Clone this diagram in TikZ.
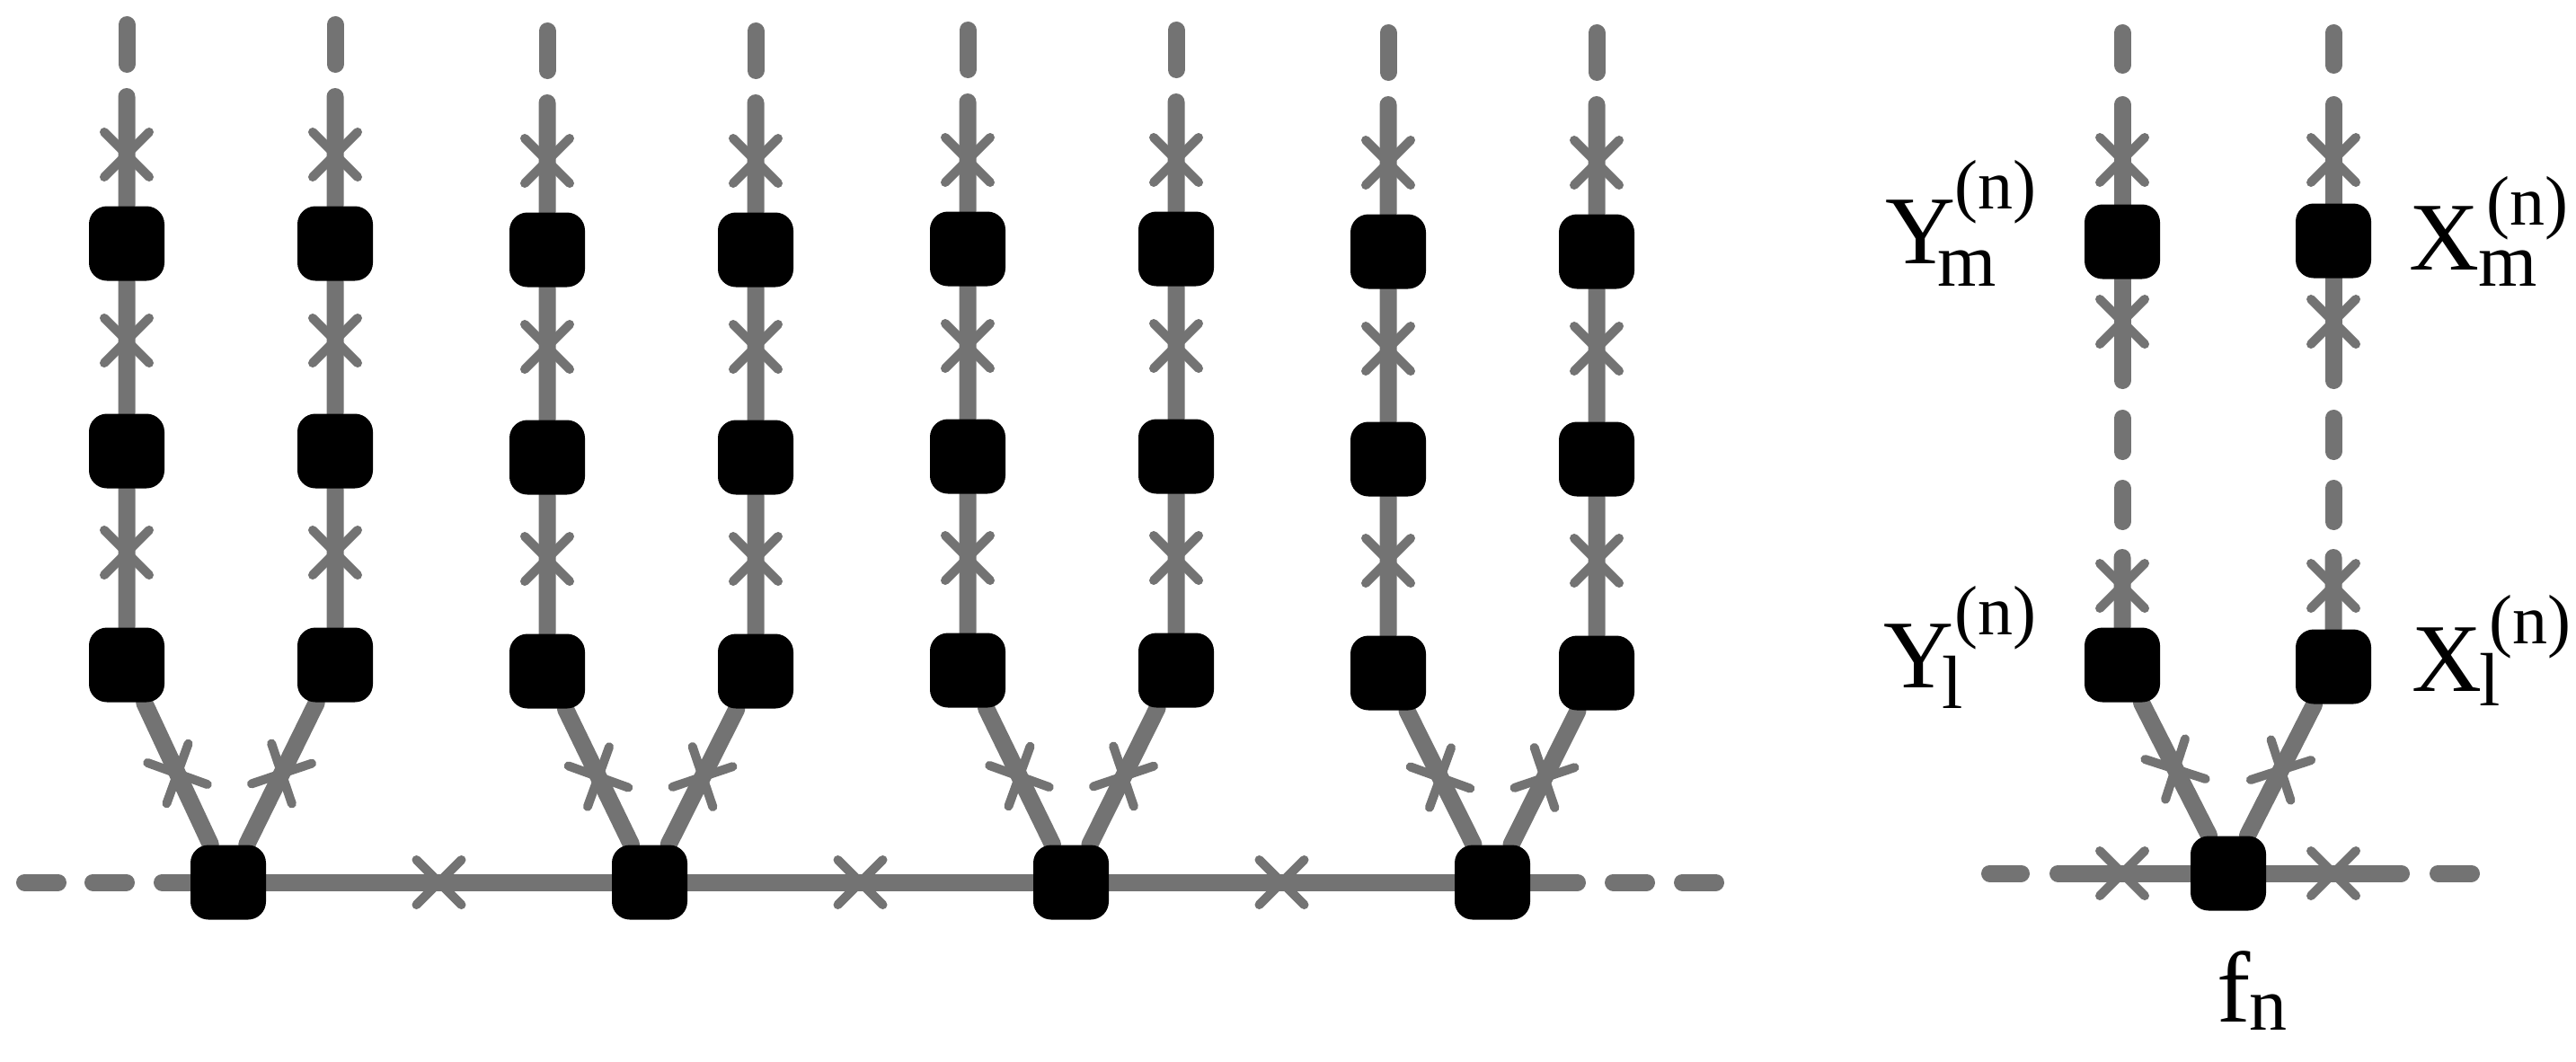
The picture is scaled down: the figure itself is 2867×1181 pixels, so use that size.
\documentclass[tikz,border=0pt]{standalone}
\usepackage{fontspec}
\setmainfont{Liberation Serif}
\usetikzlibrary{calc,backgrounds}
\definecolor{lg}{RGB}{115,115,115}
\newcommand{\tnsub}{\fontsize{21}{21}\selectfont}
\newcommand{\tnsup}{\fontsize{19.5}{19.5}\selectfont}
\tikzset{
  ln/.style={draw=lg, line width=4.75pt, line cap=round},
  xl/.style={draw=lg, line width=2.5pt, line cap=round},
  sq/.style={fill=black, draw=none, rounded corners=5pt, minimum width=21pt, minimum height=20.75pt, inner sep=0pt},
  xm/.pic={\draw[xl] (-6.25pt,-6.25pt) -- (6.25pt,6.25pt) (-6.25pt,6.25pt) -- (6.25pt,-6.25pt);},
  lab/.style={anchor=base west, inner sep=0pt, font=\fontsize{27}{27}\selectfont},
}
\begin{document}
\begin{tikzpicture}[x=0.25pt,y=-0.25pt]
\useasboundingbox (0,0) rectangle (2867,1181);
% ---------- left network: nodes ----------
\foreach \k/\dy in {0/0,1/7,2/6,3/9}{
  \pgfmathsetmacro{\cxl}{141+468*\k}
  \pgfmathsetmacro{\cxr}{373+468*\k}
  \pgfmathsetmacro{\cxb}{254+469*\k}
  \node[sq] (L\k-a) at (\cxl,271+\dy) {};
  \node[sq] (L\k-b) at (\cxl,502+\dy) {};
  \node[sq] (L\k-c) at (\cxl,740+\dy) {};
  \node[sq] (R\k-a) at (\cxr,271+\dy) {};
  \node[sq] (R\k-b) at (\cxr,502+\dy) {};
  \node[sq] (R\k-c) at (\cxr,740+\dy) {};
  \node[sq] (B\k) at (\cxb,982) {};
}
% ---------- right network: nodes ----------
\node[sq] (Ya) at (2362,269) {};
\node[sq] (Xa) at (2597,268) {};
\node[sq] (Yb) at (2362,740) {};
\node[sq] (Xb) at (2597,742) {};
\node[sq] (F) at (2480,972) {};
% ---------- lines ----------
\begin{pgfonlayer}{background}
\foreach \k/\dy in {0/0,1/7,2/6,3/9}{
  \pgfmathsetmacro{\cxl}{141+468*\k}
  \pgfmathsetmacro{\cxr}{373+468*\k}
  \coordinate (LT\k) at (\cxl,107.5+\dy);
  \coordinate (RT\k) at (\cxr,107.5+\dy);
  \draw[ln] (\cxl,27.5+\dy) -- (\cxl,71.5+\dy);
  \draw[ln] (\cxr,27.5+\dy) -- (\cxr,71.5+\dy);
  \draw[ln] (LT\k) -- (L\k-a) -- (L\k-b) -- (L\k-c) -- (B\k);
  \draw[ln] (RT\k) -- (R\k-a) -- (R\k-b) -- (R\k-c) -- (B\k);
}
\coordinate (HL) at (180.5,982);
\coordinate (HR) at (1755.5,982);
\draw[ln] (27.5,982) -- (64.5,982);
\draw[ln] (103.5,982) -- (140.5,982);
\draw[ln] (HL) -- (B0) -- (B1) -- (B2) -- (B3) -- (HR);
\draw[ln] (1795.5,982) -- (1832.5,982);
\draw[ln] (1872.5,982) -- (1909.5,982);
% right network
\foreach \cx/\top/\bot in {2362/Ya/Yb, 2597/Xa/Xb}{
  \draw[ln] (\cx,36.5) -- (\cx,72.5);
  \coordinate (T\top) at (\cx,116.5);
  \coordinate (E\top) at (\cx,423.5);
  \coordinate (S\bot) at (\cx,620.5);
  \draw[ln] (T\top) -- (\top) -- (E\top);
  \draw[ln] (\cx,465.5) -- (\cx,502.5);
  \draw[ln] (\cx,543.5) -- (\cx,580.5);
  \draw[ln] (S\bot) -- (\bot) -- (F);
}
\coordinate (FL) at (2290.5,972);
\coordinate (FR) at (2672.5,972);
\draw[ln] (2214.5,972) -- (2249.5,972);
\draw[ln] (FL) -- (F) -- (FR);
\draw[ln] (2713.5,972) -- (2750.5,972);
\end{pgfonlayer}
% ---------- crosses ----------
\foreach \k/\dy in {0/0,1/7,2/6,3/9}{
  \pgfmathsetmacro{\cxl}{141+468*\k}
  \pgfmathsetmacro{\cxr}{373+468*\k}
  \foreach \yy in {172,379,615}{
    \pic at (\cxl,\yy+\dy) {xm};
    \pic at (\cxr,\yy+\dy) {xm};
  }
  \pic[rotate=-64.9] at ($(L\k-c)!0.5!(B\k)$) {xm};
  \pic[rotate=-116.3] at ($(R\k-c)!0.5!(B\k)$) {xm};
}
\foreach \i/\j in {0/1,1/2,2/3}{
  \pic at ($(B\i)!0.5!(B\j)$) {xm};
}
\foreach \cx in {2362,2597}{
  \foreach \yy in {178,358,652}{
    \pic at (\cx,\yy) {xm};
  }
  \pic at (\cx,972) {xm};
}
\pic[rotate=-63.0] at ($(Yb)!0.5!(F)$) {xm};
\pic[rotate=-117.0] at ($(Xb)!0.5!(F)$) {xm};
% ---------- labels ----------
\node[lab] (labYm) at (2098,293) {Y\kern-5pt\rlap{\raisebox{-6.25pt}{\tnsub m}}\kern4.6pt\raisebox{15.25pt}{\tnsup (n)}};
\node[lab] (labXm) at (2680.4,300) {X\kern-0.3pt\rlap{\raisebox{-4.5pt}{\tnsub m}}\kern2.4pt\raisebox{12.5pt}{\tnsup (n)}};
\node[lab] (labYl) at (2096,765) {Y\kern-3.4pt\rlap{\raisebox{-5.75pt}{\tnsub l}}\kern3.5pt\raisebox{14.75pt}{\tnsup (n)}};
\node[lab] (labXl) at (2683.4,769) {X\kern-0.6pt\rlap{\raisebox{-4pt}{\tnsub l}}\kern2.6pt\raisebox{13.25pt}{\tnsup (n)}};
\node[lab, font=\fontsize{28}{28}\selectfont] (labF) at (2467,1137) {f\kern-0.35pt\raisebox{-2.25pt}{\tnsub n}};
\end{tikzpicture}
\end{document}
